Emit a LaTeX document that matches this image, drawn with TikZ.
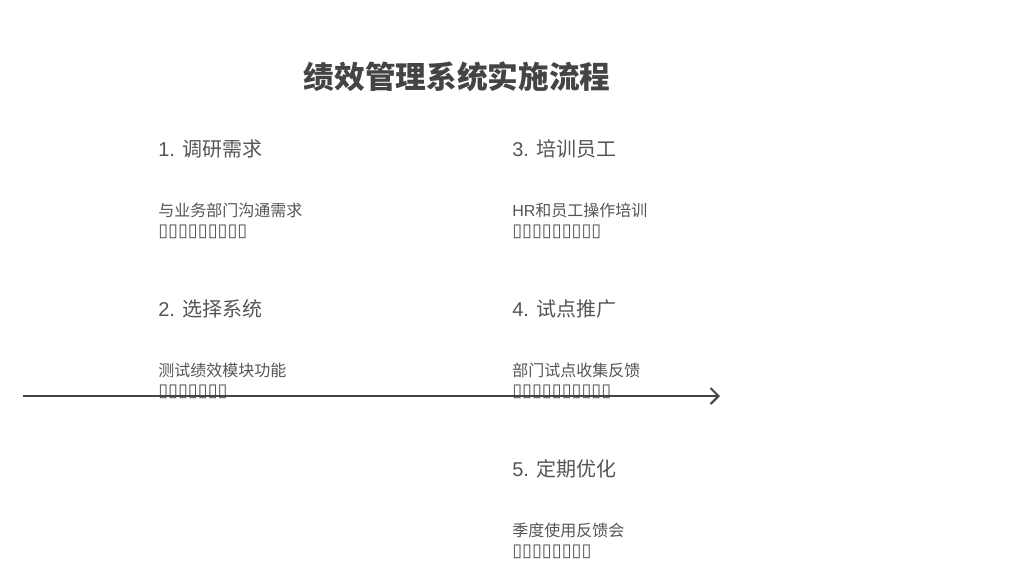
\documentclass[tikz,border=0pt]{standalone}
\usepackage{fontspec}
\setmainfont{Noto Sans CJK SC}
\newfontfamily\lat{Liberation Sans}
\newfontfamily\sym{DejaVu Sans}
\usetikzlibrary{arrows.meta,positioning}
\definecolor{ink}{HTML}{444444}
\definecolor{txt}{HTML}{555555}
\tikzset{>={Straight Barb[length=6pt,width=12pt,line width=1.5pt]}}
\tikzset{
  title/.style={text=ink,font=\fontsize{23}{28}\selectfont\bfseries,inner sep=0},
  head/.style={text=txt,anchor=west,inner sep=0,font=\fontsize{15}{18}\selectfont},
  desc/.style={text=txt,anchor=west,inner sep=0,align=left,font=\fontsize{12}{15}\selectfont},
}
\newcommand{\tofu}[1]{{\sym\fontsize{13.5}{15}\selectfont\foreach \i in {1,...,#1}{\char"25AF}}}
\begin{document}
\begin{tikzpicture}[x=0.75pt,y=-0.75pt]
\useasboundingbox[fill=white] (0,0) rectangle (1024,576);
\node[title] (t) at (457,77) {绩效管理系统实施流程};
% column one
\node[head] (h1) at (158,149) {{\lat 1. }调研需求};
\node[desc] (d1) at (158,221) {与业务部门沟通需求\\\tofu{9}};
\node[head] (h2) at (158,309) {{\lat 2. }选择系统};
\node[desc] (d2) at (158,381) {测试绩效模块功能\\\tofu{7}};
% column two
\node[head] (h3) at (512,149) {{\lat 3. }培训员工};
\node[desc] (d3) at (512,221) {{\lat HR}和员工操作培训\\\tofu{9}};
\node[head] (h4) at (512,309) {{\lat 4. }试点推广};
\node[desc] (d4) at (512,381) {部门试点收集反馈\\\tofu{10}};
\node[head] (h5) at (512,469) {{\lat 5. }定期优化};
\node[desc] (d5) at (512,541) {季度使用反馈会\\\tofu{8}};
\coordinate (s) at (23,396);
\coordinate (e) at (720,396);
\begin{scope}[line width = 1.5pt]
\draw[->,color=ink] (s) to (e);
\end{scope}
\end{tikzpicture}
\end{document}
